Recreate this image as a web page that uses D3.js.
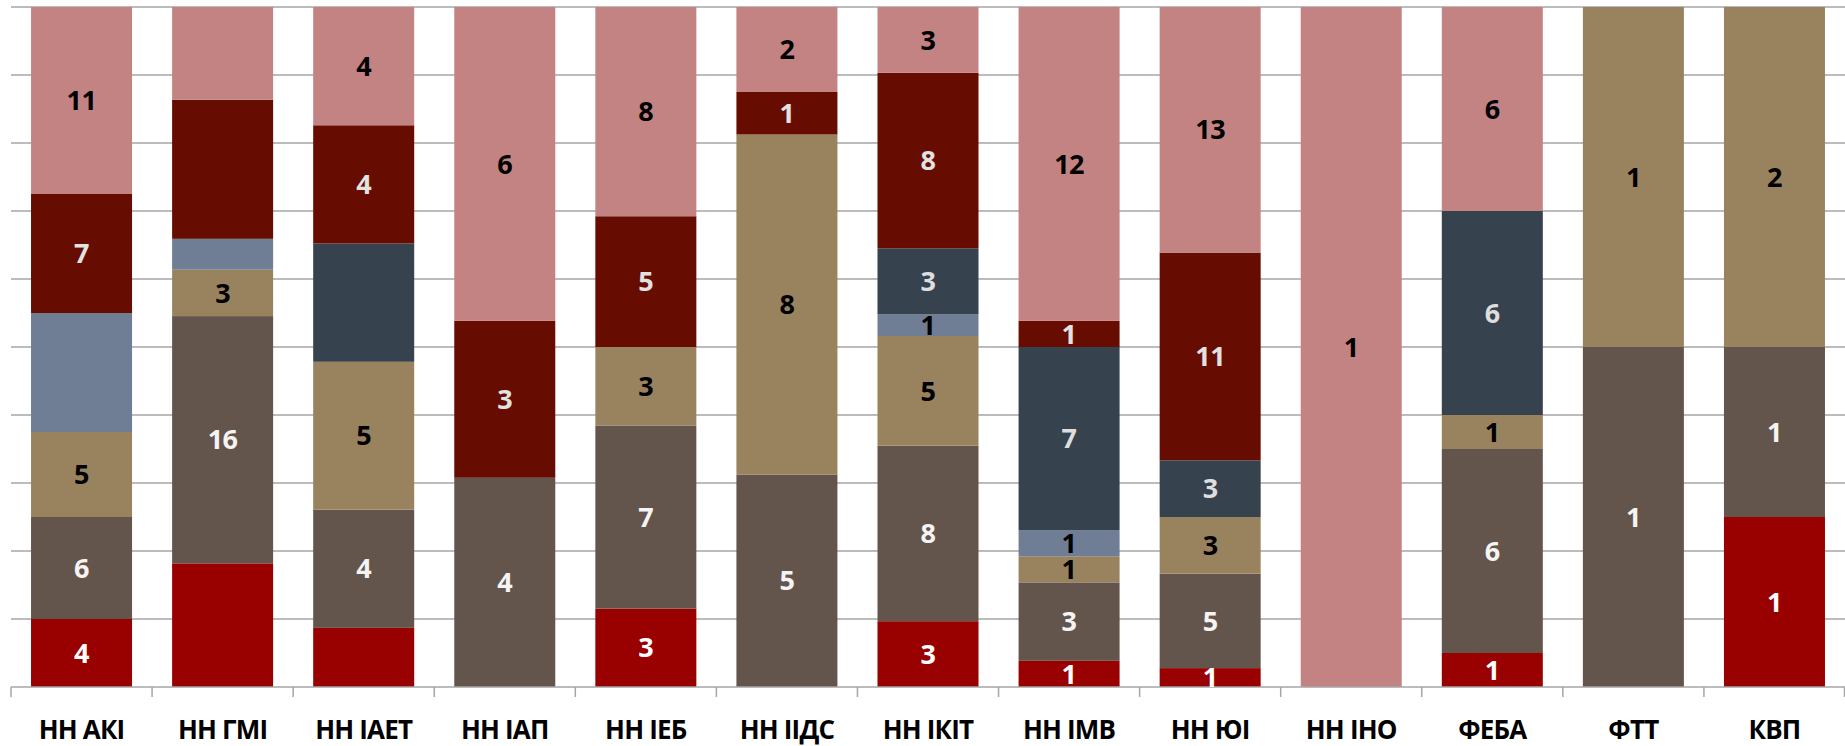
<!DOCTYPE html>
<html><head><meta charset="utf-8">
<script src="https://cdn.jsdelivr.net/npm/d3@7"></script>
<style>
html,body{margin:0;padding:0;background:#fff;}
svg{display:block;}
</style></head>
<body>
<svg id="chart" width="1845" height="746"></svg>
<script>
const categories = ["НН АКІ","НН ГМІ","НН ІАЕТ","НН ІАП","НН ІЕБ","НН ІІДС","НН ІКІТ","НН ІМВ","НН ЮІ","НН ІНО","ФЕБА","ФТТ","КВП"];
const seriesNames = ["s1","s2","s3","s4","s5","s6","s7"];
const s1 = [4, 8, 2, 0, 3, 0, 3, 1, 1, 0, 1, 0, 1];
const s2 = [6, 16, 4, 4, 7, 5, 8, 3, 5, 0, 6, 1, 1];
const s3 = [5, 3, 5, 0, 3, 8, 5, 1, 3, 0, 1, 1, 2];
const s4 = [7, 2, 0, 0, 0, 0, 1, 1, 0, 0, 0, 0, 0];
const s5 = [0, 0, 4, 0, 0, 0, 3, 7, 3, 0, 6, 0, 0];
const s6 = [7, 9, 4, 3, 5, 1, 8, 1, 11, 0, 0, 0, 0];
const s7 = [11, 6, 4, 6, 8, 2, 3, 12, 13, 1, 6, 0, 0];
const yTicks = [0,0.1,0.2,0.3,0.4,0.5,0.6,0.7,0.8,0.9,1];
// labels not displayed in the original: [category, series]
const hiddenLabels = [["НН АКІ","s4"],["НН ГМІ","s1"],["НН ГМІ","s4"],["НН ГМІ","s6"],["НН ГМІ","s7"],["НН ІАЕТ","s1"],["НН ІАЕТ","s5"]];

const colors = {s1:"#990000", s2:"#64554C", s3:"#99835F", s4:"#6F7D95", s5:"#37424F", s6:"#660C00", s7:"#C48383"};
const labelColors = {s1:"#ffffff", s2:"#f4f4f4", s3:"#000000", s4:"#000000", s5:"#dedede", s6:"#e2e2e2", s7:"#000000"};

const seriesValues = [s1,s2,s3,s4,s5,s6,s7];
const rows = categories.map((c,i)=>{
  const r = {cat:c};
  seriesNames.forEach((s,k)=>{ r[s]=seriesValues[k][i]; });
  return r;
});

const svg = d3.select("#chart");
const margin = {left:11, right:0, top:7, bottom:59};
const W = 1845, H = 746;
const x = d3.scaleBand().domain(categories).range([margin.left, W-margin.right]).paddingInner(0.284).paddingOuter(0.142);
const y = d3.scaleLinear().domain([0,1]).range([H-margin.bottom, margin.top]);

// gridlines
svg.append("g").selectAll("line").data(yTicks.slice(1)).join("line")
  .attr("x1", margin.left).attr("x2", W).attr("y1", d=>y(d)).attr("y2", d=>y(d))
  .attr("stroke","#a6a6a6").attr("stroke-width",1.5);

const stack = d3.stack().keys(seriesNames).offset(d3.stackOffsetExpand);
const stacked = stack(rows);

const gBars = svg.append("g");
stacked.forEach(layer=>{
  const key = layer.key;
  gBars.append("g").selectAll("rect").data(layer).join("rect")
    .attr("x", d=>x(d.data.cat))
    .attr("width", x.bandwidth())
    .attr("y", d=>y(d[1]))
    .attr("height", d=>Math.max(0, y(d[0])-y(d[1])))
    .attr("fill", colors[key]);
});

// x axis
const axisG = svg.append("g").attr("transform",`translate(0,${y(0)})`);
axisG.append("line").attr("x1",margin.left).attr("x2",W).attr("y1",0).attr("y2",0)
  .attr("stroke","#a6a6a6").attr("stroke-width",1.5);
const boundaries = categories.map(c=>x(c)-x.step()*x.paddingInner()/2);
boundaries.push(W-0.5);
axisG.selectAll("line.tick").data(boundaries).join("line").attr("class","tick")
  .attr("x1",d=>d).attr("x2",d=>d).attr("y1",0).attr("y2",10)
  .attr("stroke","#a6a6a6").attr("stroke-width",1.5);
axisG.selectAll("text").data(categories).join("text")
  .attr("x", d=>x(d)+x.bandwidth()/2).attr("y", 52)
  .attr("text-anchor","middle")
  .attr("font-family","'Open Sans', sans-serif").attr("font-weight","bold")
  .attr("font-size","26px").attr("letter-spacing","-0.8px").attr("fill","#000")
  .text(d=>d);

// data labels
const hiddenSet = new Set(hiddenLabels.map(d=>d[0]+"|"+d[1]));
const gLab = svg.append("g");
stacked.forEach(layer=>{
  const key = layer.key;
  gLab.append("g").selectAll("text")
    .data(layer.filter(d=>d.data[key]>0 && !hiddenSet.has(d.data.cat+"|"+key)))
    .join("text")
    .attr("x", d=>x(d.data.cat)+x.bandwidth()/2)
    .attr("y", d=>(y(d[0])+y(d[1]))/2)
    .attr("dy","0.36em")
    .attr("text-anchor","middle")
    .attr("font-family","'Open Sans', sans-serif").attr("font-weight","bold")
    .attr("font-size","27px").attr("letter-spacing","-0.5px")
    .attr("fill", labelColors[key])
    .text(d=>d.data[key]);
});
</script>
</body></html>
